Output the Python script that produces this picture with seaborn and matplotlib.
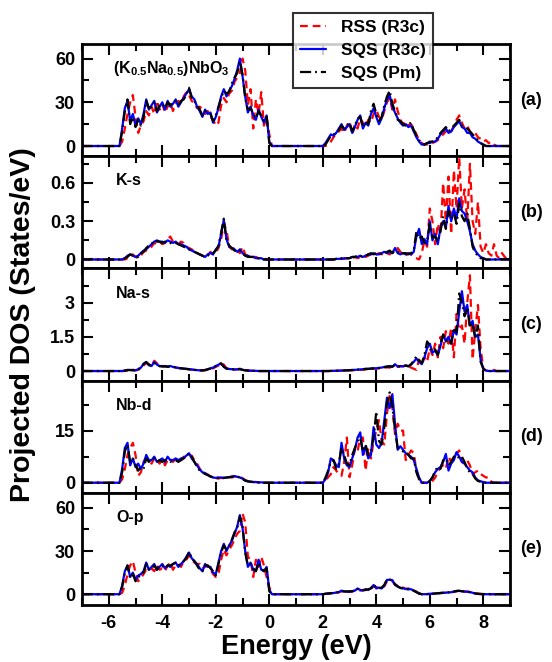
import numpy as np
import matplotlib
matplotlib.use("Agg")
import matplotlib.pyplot as plt
import seaborn as sns
from matplotlib.ticker import MultipleLocator, FixedLocator, FormatStrFormatter

# energy grid (eV), 0.1 eV step
energy = np.round(np.arange(-7.0, 9.0001, 0.1), 1)

series_names = ["RSS (R3c)", "SQS (R3c)", "SQS (Pm)"]
panel_tags = ["(a)", "(b)", "(c)", "(d)", "(e)"]
panel_titles = [r"(K$_{0.5}$Na$_{0.5}$)NbO$_{3}$", "K-s", "Na-s", "Nb-d", "O-p"]

# valence band values: E = -5.6 ... 0.1 (58 pts)
# conduction band values: E = 2.0 ... 8.8 (trailing zeros left out)

# ---- (a) total ----
a_rss_vb = [0, 3, 12, 22, 30, 35, 20, 9, 14, 17,
            24, 21, 27, 22, 31, 25, 29, 23, 27, 30,
            24, 29, 31, 29, 34, 37, 35, 31, 29, 26,
            27, 25, 22, 24, 20, 18, 14, 16, 28, 33,
            30, 36, 38, 44, 47, 50, 60, 52, 28, 39,
            12, 32, 22, 37, 14, 20, 8, 0]
a_sqs_vb = [0, 12, 26, 31, 17, 22, 14, 19, 15, 22,
            32, 25, 28, 31, 23, 27, 30, 25, 31, 27,
            29, 32, 27, 30, 33, 36, 39, 34, 32, 27,
            24, 20, 25, 22, 23, 16, 20, 26, 34, 39,
            34, 38, 41, 46, 52, 60, 48, 34, 23, 27,
            21, 18, 25, 20, 16, 21, 3, 0]
a_pm_vb = [0, 10, 24, 32, 15, 20, 13, 18, 14, 20,
           31, 26, 27, 30, 24, 28, 29, 26, 30, 28,
           30, 31, 28, 31, 32, 35, 40, 33, 31, 28,
           25, 21, 24, 23, 22, 17, 21, 27, 33, 38,
           36, 37, 43, 47, 50, 58, 49, 33, 25, 26,
           22, 19, 24, 21, 17, 20, 2, 0]
a_rss_cb = [0, 0, 1, 3, 6, 8, 10, 12, 9, 14,
            17, 8, 15, 12, 19, 16, 13, 18, 16, 22,
            25, 20, 18, 24, 30, 33, 25, 32, 24, 18,
            15, 17, 14, 15, 12, 8, 4, 2, 1, 1,
            2, 2, 3, 4, 6, 8, 10, 12, 10, 14,
            18, 21, 16, 12, 14, 10, 8, 9, 6, 5,
            3, 4, 2, 3, 1]
a_sqs_cb = [0, 2, 5, 8, 7, 9, 12, 15, 11, 13,
            15, 9, 13, 18, 21, 12, 16, 14, 22, 26,
            20, 15, 19, 26, 32, 35, 27, 23, 19, 16,
            14, 15, 13, 14, 10, 6, 3, 1, 1, 2,
            2, 3, 3, 5, 8, 10, 12, 9, 10, 13,
            15, 17, 13, 12, 9, 9, 6, 5, 3, 2,
            1]
a_pm_cb = [0, 1, 4, 7, 8, 9, 11, 14, 12, 14,
           16, 10, 14, 19, 20, 13, 17, 15, 24, 29,
           22, 17, 20, 28, 34, 38, 29, 24, 18, 17,
           15, 14, 15, 16, 11, 7, 4, 2, 1, 2,
           3, 3, 4, 6, 9, 11, 13, 10, 12, 14,
           16, 18, 14, 13, 12, 10, 8, 6, 4, 2,
           1]

# ---- (b) K-s ----
b_rss_vb = [0, 0, 0, 0.01, 0.03, 0.04, 0.02, 0.01, 0.03, 0.06,
            0.07, 0.09, 0.10, 0.13, 0.12, 0.14, 0.12, 0.13, 0.16, 0.18,
            0.14, 0.13, 0.12, 0.14, 0.13, 0.10, 0.09, 0.08, 0.06, 0.05,
            0.04, 0.03, 0.02, 0.03, 0.06, 0.04, 0.05, 0.09, 0.16, 0.28,
            0.23, 0.10, 0.08, 0.09, 0.07, 0.05, 0.10, 0.04, 0.03, 0.03,
            0.02, 0.02, 0.01, 0.01, 0.01, 0, 0, 0]
b_sqs_vb = [0, 0, 0.01, 0.03, 0.04, 0.03, 0.02, 0.03, 0.05, 0.07,
            0.08, 0.10, 0.12, 0.14, 0.15, 0.14, 0.14, 0.13, 0.15, 0.14,
            0.13, 0.14, 0.12, 0.12, 0.11, 0.10, 0.08, 0.07, 0.06, 0.05,
            0.04, 0.03, 0.02, 0.04, 0.05, 0.04, 0.08, 0.10, 0.20, 0.31,
            0.16, 0.10, 0.09, 0.08, 0.06, 0.08, 0.05, 0.03, 0.03, 0.02,
            0.02, 0.01, 0.01, 0.01, 0, 0, 0, 0]
b_pm_vb = [0, 0, 0.01, 0.02, 0.04, 0.03, 0.03, 0.02, 0.05, 0.06,
           0.09, 0.11, 0.12, 0.15, 0.14, 0.14, 0.13, 0.14, 0.14, 0.13,
           0.12, 0.13, 0.12, 0.11, 0.10, 0.09, 0.08, 0.07, 0.06, 0.05,
           0.04, 0.03, 0.02, 0.03, 0.05, 0.05, 0.07, 0.11, 0.21, 0.32,
           0.15, 0.11, 0.09, 0.07, 0.06, 0.07, 0.05, 0.03, 0.02, 0.02,
           0.02, 0.01, 0.01, 0.01, 0, 0, 0, 0]
b_rss_cb = [0, 0, 0, 0, 0, 0, 0, 0.005, 0.005, 0.01,
            0.01, 0.01, 0.02, 0.01, 0.02, 0.03, 0.02, 0.03, 0.04, 0.03,
            0.04, 0.05, 0.04, 0.06, 0.05, 0.04, 0.06, 0.07, 0.09, 0.06,
            0.04, 0.03, 0.05, 0.04, 0.02, 0.01, 0.0, 0.05, 0.15, 0.10,
            0.40, 0.30, 0.12, 0.28, 0.20, 0.60, 0.30, 0.65, 0.20, 0.70,
            0.40, 0.80, 0.40, 0.55, 0.30, 0.75, 0.30, 0.20, 0.45, 0.10,
            0.05, 0.12, 0.05, 0.03, 0.12, 0.03, 0.01, 0.05, 0.02]
b_sqs_cb = [0, 0, 0, 0, 0, 0.005, 0.005, 0.005, 0.01, 0.01,
            0.01, 0.02, 0.02, 0.02, 0.03, 0.02, 0.03, 0.04, 0.04, 0.05,
            0.04, 0.04, 0.05, 0.06, 0.05, 0.06, 0.05, 0.09, 0.05, 0.04,
            0.05, 0.04, 0.05, 0.04, 0.06, 0.18, 0.24, 0.12, 0.16, 0.12,
            0.30, 0.15, 0.20, 0.12, 0.25, 0.30, 0.25, 0.42, 0.30, 0.40,
            0.32, 0.48, 0.38, 0.36, 0.30, 0.22, 0.12, 0.07, 0.04, 0.02,
            0.01]
b_pm_cb = [0, 0, 0, 0, 0, 0.005, 0.005, 0.01, 0.01, 0.01,
           0.01, 0.02, 0.02, 0.03, 0.02, 0.03, 0.03, 0.04, 0.05, 0.04,
           0.05, 0.04, 0.05, 0.05, 0.06, 0.07, 0.05, 0.07, 0.06, 0.04,
           0.05, 0.05, 0.04, 0.05, 0.07, 0.22, 0.16, 0.18, 0.13, 0.14,
           0.28, 0.17, 0.18, 0.14, 0.22, 0.34, 0.24, 0.38, 0.32, 0.36,
           0.28, 0.44, 0.34, 0.30, 0.36, 0.24, 0.10, 0.05, 0.03, 0.01,
           0.01]

# ---- (c) Na-s ----
c_rss_vb = [0, 0, 0, 0.02, 0.05, 0.06, 0.03, 0.05, 0.12, 0.24,
            0.36, 0.30, 0.24, 0.45, 0.34, 0.22, 0.20, 0.22, 0.18, 0.21,
            0.20, 0.16, 0.14, 0.11, 0.10, 0.10, 0.07, 0.06, 0.05, 0.04,
            0.03, 0.02, 0.03, 0.06, 0.09, 0.12, 0.18, 0.24, 0.34, 0.28,
            0.12, 0.08, 0.07, 0.06, 0.08, 0.10, 0.07, 0.04, 0.03, 0.02,
            0.01, 0.01, 0, 0, 0, 0, 0, 0]
c_sqs_vb = [0, 0, 0.02, 0.04, 0.05, 0.04, 0.03, 0.08, 0.15, 0.30,
            0.38, 0.25, 0.22, 0.40, 0.28, 0.22, 0.22, 0.20, 0.20, 0.22,
            0.18, 0.15, 0.13, 0.12, 0.10, 0.10, 0.08, 0.07, 0.05, 0.04,
            0.03, 0.03, 0.05, 0.08, 0.12, 0.15, 0.22, 0.28, 0.32, 0.20,
            0.10, 0.09, 0.08, 0.07, 0.07, 0.09, 0.06, 0.03, 0.02, 0.01,
            0.01, 0.01, 0, 0, 0, 0, 0, 0]
c_pm_vb = [0, 0, 0.02, 0.05, 0.04, 0.03, 0.03, 0.07, 0.16, 0.32,
           0.40, 0.28, 0.24, 0.36, 0.26, 0.21, 0.20, 0.21, 0.19, 0.20,
           0.19, 0.16, 0.14, 0.12, 0.11, 0.09, 0.08, 0.06, 0.05, 0.04,
           0.03, 0.03, 0.04, 0.07, 0.11, 0.16, 0.22, 0.30, 0.34, 0.18,
           0.11, 0.09, 0.08, 0.07, 0.08, 0.08, 0.05, 0.03, 0.02, 0.01,
           0.01, 0, 0, 0, 0, 0, 0, 0]
c_rss_cb = [0, 0, 0, 0, 0.005, 0.01, 0.01, 0.02, 0.02, 0.02,
            0.03, 0.03, 0.04, 0.05, 0.05, 0.06, 0.07, 0.08, 0.08, 0.10,
            0.10, 0.12, 0.12, 0.15, 0.16, 0.15, 0.20, 0.22, 0.18, 0.20,
            0.22, 0.20, 0.20, 0.15, 0.10, 0.05, 0.50, 0.30, 0.60, 0.40,
            1.00, 0.70, 1.20, 0.60, 1.50, 1.00, 1.75, 1.20, 1.90, 0.60,
            2.50, 1.80, 2.00, 1.20, 3.00, 4.20, 0.50, 1.80, 2.90, 1.00,
            0.10, 0.02, 0, 0, 0.05]
c_sqs_cb = [0, 0, 0, 0.005, 0.01, 0.01, 0.02, 0.02, 0.03, 0.03,
            0.04, 0.05, 0.05, 0.06, 0.07, 0.08, 0.10, 0.09, 0.10, 0.12,
            0.12, 0.14, 0.15, 0.18, 0.20, 0.22, 0.18, 0.30, 0.20, 0.22,
            0.20, 0.25, 0.22, 0.28, 0.40, 0.55, 0.40, 0.30, 0.60, 1.00,
            1.20, 0.80, 0.90, 0.70, 1.10, 1.60, 1.30, 1.50, 1.20, 1.80,
            1.60, 2.60, 3.50, 2.60, 2.90, 2.00, 2.20, 1.50, 1.60, 0.50,
            0.10, 0.02]
c_pm_cb = [0, 0, 0, 0.005, 0.01, 0.01, 0.02, 0.02, 0.02, 0.03,
           0.04, 0.04, 0.05, 0.06, 0.07, 0.07, 0.09, 0.10, 0.11, 0.12,
           0.13, 0.13, 0.15, 0.17, 0.19, 0.20, 0.20, 0.26, 0.22, 0.20,
           0.22, 0.24, 0.20, 0.30, 0.45, 0.65, 0.45, 0.35, 0.70, 1.30,
           1.10, 0.85, 0.95, 0.70, 1.20, 1.60, 1.30, 1.40, 1.20, 1.90,
           1.70, 3.40, 3.00, 2.40, 2.80, 1.90, 2.10, 1.40, 2.00, 0.40,
           0.10, 0.02]

# ---- (d) Nb-d ----
d_rss_vb = [0, 1, 4, 8, 10, 11.5, 8, 2, 3, 6,
            7, 6, 5.5, 7, 6.5, 5.5, 7, 5, 6.5, 7,
            6, 7, 6.5, 6.5, 7.5, 7, 8, 7.8, 6.5, 5.5,
            4, 3.2, 2.6, 2.4, 1.8, 1.6, 1.3, 1.2, 1.4, 1.3,
            1.4, 1.6, 1.5, 1.8, 2.0, 1.6, 1.3, 0.8, 0.5, 0.3,
            0.2, 0.2, 0.1, 0.1, 0.05, 0, 0, 0]
d_sqs_vb = [0, 4, 10, 11.5, 5, 7, 4.5, 5.5, 4, 5.5,
            8, 6.5, 6.5, 7.5, 6, 6.5, 7, 6, 7.5, 6.5,
            6.5, 7, 6.5, 7, 7.2, 7.8, 8.5, 7, 6, 5,
            3.8, 3.0, 2.8, 2.2, 1.8, 1.5, 1.4, 1.5, 1.5, 1.4,
            1.5, 1.6, 1.8, 1.9, 1.7, 1.5, 1.2, 0.6, 0.4, 0.3,
            0.2, 0.2, 0.1, 0.1, 0.05, 0, 0, 0]
d_pm_vb = [0, 3, 9, 11, 6, 7, 5, 3.5, 4.5, 4,
           7, 6, 7, 7, 6, 6.5, 6, 6.5, 6.5, 6,
           6.5, 6.5, 6, 6.5, 7, 7.5, 8.5, 7.5, 6, 4.5,
           3.5, 3, 2.5, 2.2, 1.8, 1.6, 1.5, 1.4, 1.5, 1.4,
           1.5, 1.6, 1.7, 1.9, 1.8, 1.5, 1.1, 0.6, 0.4, 0.3,
           0.2, 0.2, 0.1, 0.1, 0, 0, 0, 0]
d_rss_cb = [0, 0.5, 1.6, 2.5, 4.5, 3.5, 2.5, 2, 6, 13,
            1.6, 5, 10, 9, 13, 13, 3.5, 10, 7, 12,
            15, 18, 12, 11, 20, 25, 21.7, 14, 17, 15,
            15, 6.5, 8, 9.3, 8.5, 3.5, 0.7, 0, 0, 0,
            0, 0.5, 1.5, 3, 4.5, 5, 4, 7.5, 6, 7.5,
            8.5, 9.3, 6, 5.5, 6.4, 5, 2.5, 3, 3.5, 2.5,
            2, 1.5, 1.6, 0.3]
d_sqs_cb = [0, 1, 3, 7, 6.5, 5, 4.5, 11.5, 7, 5,
            4.5, 7, 9.5, 13, 14.5, 8, 10.5, 7, 8, 16,
            11, 10, 11.5, 18, 24.5, 21.5, 25.5, 17, 9.5, 10.5,
            9.5, 8.5, 8, 7.5, 6.5, 4, 1.5, 0, 0, 0,
            0.5, 1.6, 3, 4, 4.5, 6, 8.3, 3.5, 5.5, 6.5,
            8.8, 7.5, 6, 5.5, 4.5, 3.5, 3, 1.5, 0.7, 0.4,
            0.2]
d_pm_cb = [0, 1.5, 3.5, 6, 6.5, 4, 5.5, 10, 8, 5.5,
           5, 8, 10, 12, 13, 9, 11, 8, 9, 13,
           20.5, 12, 11, 16, 23, 26, 22, 15, 10, 9.5,
           9, 9, 8, 7, 7, 3, 1, 0, 0, 0,
           0.5, 1.5, 3.5, 4.5, 4, 6.5, 7, 5, 6, 7.5,
           8, 7, 7.5, 6, 4, 3, 2.5, 1.2, 0.5, 0.3,
           0.1]

# ---- (e) O-p ----
e_rss_vb = [0, 1, 6, 14, 20, 23, 15, 9, 11, 14,
            17, 16, 18, 16, 20, 17, 18, 16, 20, 22,
            17, 20, 21, 19, 23, 24, 27, 24, 22, 21,
            21, 18, 19, 20, 17, 14, 12, 14, 24, 31,
            27, 31, 34, 38, 42, 44, 56, 50, 26, 24,
            12, 24, 19, 26, 20, 12, 5, 0]
e_sqs_vb = [0, 6, 16, 20, 12, 15, 10, 13, 14, 16,
            22, 17, 19, 21, 17, 19, 21, 18, 20, 19,
            21, 22, 19, 21, 23, 26, 29, 25, 23, 21,
            18, 16, 21, 19, 19, 15, 14, 22, 30, 35,
            30, 34, 37, 42, 47, 55, 46, 30, 19, 22,
            17, 16, 24, 17, 16, 19, 3, 0]
e_pm_vb = [0, 5, 15, 20, 11, 14, 9, 12, 13, 15,
           21, 17, 18, 20, 17, 20, 20, 18, 20, 20,
           21, 22, 20, 21, 23, 25, 29.5, 25, 23, 20,
           17, 16, 20, 20, 18, 16, 13, 21, 29, 34,
           31, 33, 38, 43, 46, 54, 47, 29, 20, 21,
           18, 16, 22, 18, 16, 18, 2, 0]
e_rss_cb = [0, 0.2, 0.4, 0.5, 0.7, 1.0, 1.3, 2.0, 1.5, 2.2,
            1.6, 1.8, 2.8, 3.2, 2.5, 3.0, 2.8, 3.6, 3.5, 5.5,
            5.0, 4.2, 4.5, 5.5, 9.0, 10.0, 9.0, 7.0, 5.8, 5.0,
            4.6, 3.8, 4.0, 3.6, 2.8, 1.8, 0.6, 0.1, 0, 0.1,
            0.2, 0.3, 0.4, 0.6, 0.7, 0.9, 1.0, 1.2, 1.5, 1.6,
            2.0, 2.4, 2.2, 1.8, 1.9, 1.5, 1.2, 0.8, 0.5, 0.3,
            0.2, 0.4, 0.2]
e_sqs_cb = [0, 0.3, 0.5, 0.6, 0.8, 1.2, 1.5, 2.5, 2.0, 1.8,
            1.8, 2.0, 2.5, 4.0, 3.0, 2.5, 3.4, 3.0, 4.0, 6.4,
            4.0, 4.6, 4.0, 6.0, 10.0, 10.0, 9.8, 6.4, 5.3, 4.5,
            4.1, 3.6, 3.4, 3.5, 2.5, 1.5, 0.5, 0, 0, 0.1,
            0.2, 0.4, 0.5, 0.6, 0.8, 1.0, 1.1, 1.2, 1.4, 1.8,
            2.2, 2.3, 2.0, 1.8, 1.7, 1.5, 1.0, 0.5, 0.2, 0.1]
e_pm_cb = [0, 0.3, 0.5, 0.7, 0.9, 1.1, 1.6, 2.2, 1.9, 1.9,
           2.0, 2.2, 2.4, 3.6, 3.2, 2.8, 3.2, 3.4, 4.2, 7.0,
           4.5, 4.2, 4.6, 6.5, 10.5, 10.3, 9.2, 6.8, 5.5, 4.3,
           4.0, 3.8, 3.5, 3.2, 2.4, 1.4, 0.4, 0, 0, 0.1,
           0.2, 0.3, 0.5, 0.7, 0.9, 1.0, 1.2, 1.3, 1.5, 1.9,
           2.3, 2.4, 2.1, 1.9, 1.6, 1.4, 0.9, 0.5, 0.2, 0.1]

# y ticks per panel
a_yticks = [0, 30, 60]
b_yticks = [0, 0.3, 0.6]
c_yticks = [0, 1.5, 3]
d_yticks = [0, 15]
e_yticks = [0, 30, 60]


def band(vb, cb):
    # put valence / conduction parts on the full energy grid
    assert len(vb) == 58 and len(cb) <= 69
    full = [0.0] * 14 + list(vb) + [0.0] * 18 + list(cb) + [0.0] * (71 - len(cb))
    return np.array(full, dtype=float)


panels = [
    (band(a_rss_vb, a_rss_cb), band(a_sqs_vb, a_sqs_cb), band(a_pm_vb, a_pm_cb)),
    (band(b_rss_vb, b_rss_cb), band(b_sqs_vb, b_sqs_cb), band(b_pm_vb, b_pm_cb)),
    (band(c_rss_vb, c_rss_cb), band(c_sqs_vb, c_sqs_cb), band(c_pm_vb, c_pm_cb)),
    (band(d_rss_vb, d_rss_cb), band(d_sqs_vb, d_sqs_cb), band(d_pm_vb, d_pm_cb)),
    (band(e_rss_vb, e_rss_cb), band(e_sqs_vb, e_sqs_cb), band(e_pm_vb, e_pm_cb)),
]
yticks = [a_yticks, b_yticks, c_yticks, d_yticks, e_yticks]
ylims = [(-7, 70), (-0.07, 0.81), (-0.42, 4.5), (-2.9, 29.4), (-7.5, 70.5)]

sns.set_style("ticks")
plt.rcParams["font.family"] = ["Liberation Sans", "DejaVu Sans"]
plt.rcParams["font.weight"] = "bold"
plt.rcParams["axes.unicode_minus"] = False
plt.rcParams["text.color"] = "black"
plt.rcParams["xtick.color"] = "black"
plt.rcParams["ytick.color"] = "black"
plt.rcParams["axes.edgecolor"] = "black"
plt.rcParams["mathtext.fontset"] = "custom"
plt.rcParams["mathtext.rm"] = "Liberation Sans:bold"
plt.rcParams["mathtext.it"] = "Liberation Sans:bold"
plt.rcParams["mathtext.bf"] = "Liberation Sans:bold"

colors = ["#ff0000", "#0000ff", "#000000"]
styles = [(0, (3.5, 2.2)), "-", (0, (5, 1.8, 0.8, 1.8))]

fig, axes = plt.subplots(5, 1, figsize=(5.52, 6.62), dpi=100, sharex=True)
fig.subplots_adjust(left=0.1486, right=0.924, bottom=0.0861, top=0.9335, hspace=0)

for i, ax in enumerate(axes):
    for vals, col, ls, name in zip(panels[i], colors, styles, series_names):
        sns.lineplot(x=energy, y=vals, ax=ax, color=col, linestyle=ls,
                     lw=1.6, legend=False, label=name if i == 0 else None)
    ax.set_xlim(-7, 9)
    ax.set_ylim(*ylims[i])
    ax.xaxis.set_major_locator(MultipleLocator(2))
    ax.xaxis.set_minor_locator(MultipleLocator(1))
    yt = yticks[i]
    step = yt[1] - yt[0]
    ax.yaxis.set_major_locator(FixedLocator(yt))
    ax.yaxis.set_minor_locator(MultipleLocator(step / 2))
    ax.yaxis.set_major_formatter(FormatStrFormatter("%g"))
    ax.tick_params(which="both", direction="in", top=True, right=True,
                   labelsize=13, width=1.5, color="black")
    ax.tick_params(which="major", length=8, pad=5)
    ax.tick_params(which="minor", length=5)
    ax.tick_params(axis="x", pad=7)
    for sp in ax.spines.values():
        sp.set_linewidth(2)
        sp.set_color("black")
    ax.set_xlabel("")
    ax.set_ylabel("")
    for lab in ax.get_xticklabels() + ax.get_yticklabels():
        lab.set_fontweight("bold")
    ax.text(1.023, 0.5, panel_tags[i], transform=ax.transAxes, ha="left",
            va="center", fontsize=13, fontweight="bold")
    ax.text(0.08 if i else 0.072, 0.78, panel_titles[i], transform=ax.transAxes,
            ha="left", va="center", fontsize=11.5, fontweight="bold")

handles, labels = axes[0].get_legend_handles_labels()
leg = fig.legend(handles, labels, loc="upper left", bbox_to_anchor=(0.531, 0.980),
                 frameon=True, fancybox=False, edgecolor="black",
                 handlelength=1.5, labelspacing=0.45, borderpad=0.4,
                 handletextpad=0.85, borderaxespad=0,
                 prop={"weight": "bold", "size": 12.5})
leg.get_frame().set_linewidth(1.5)

fig.text(0.537, 0.023, "Energy (eV)", ha="center", va="center",
         fontsize=19.5, fontweight="bold")
fig.text(0.042, 0.51, "Projected DOS (States/eV)", ha="center", va="center",
         rotation=90, fontsize=20.5, fontweight="bold")

fig.savefig("out.png", dpi=100)
